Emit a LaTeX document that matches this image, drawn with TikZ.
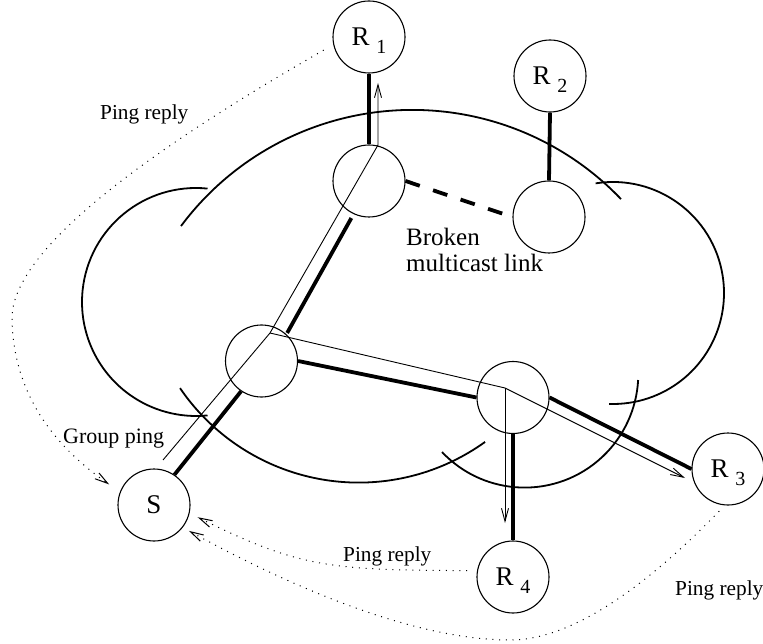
\documentclass[tikz,border=0pt]{standalone}
\usepackage{fontspec}
\setmainfont{Liberation Serif}
\usetikzlibrary{arrows.meta}
% receiver label: R with a lowered index
\newcommand\recvlabel[1]{R\ \raisebox{-8pt}[0pt][0pt]{\fontsize{20}{20}\selectfont #1}}
\begin{document}
\begin{tikzpicture}[x=1pt,y=-1pt,
  router/.style={circle, draw, line width=1.1pt, minimum size=72pt, inner sep=0pt},
  host/.style={router, font=\fontsize{27}{27}\selectfont},
  cloudline/.style={line width=1.8pt},
  tree/.style={line width=3.8pt},
  barb/.style={-{Straight Barb[length=13pt,width=7pt]}},
  ping/.style={line width=0.9pt, barb},
  reply/.style={line width=1pt, dash pattern=on 1pt off 5.7pt, barb},
  lbl/.style={inner sep=0pt, anchor=base west, font=\fontsize{21.3}{25}\selectfont}
]
\useasboundingbox (0,0) rectangle (763,644);

% network cloud
\draw[cloudline] (412.4,398.5) ++(-143.3:288.6) arc[start angle=-143.3, end angle=-43.7, radius=288.6];
\draw[cloudline] (196,302) ++(-84.2:114) arc[start angle=-84.2, end angle=-275.8, radius=114];
\draw[cloudline] (358.8,266.2) ++(145.7:216.4) arc[start angle=145.7, end angle=54.3, radius=216.4];
\draw[cloudline] (524.6,373.9) ++(136.6:113.7) arc[start angle=136.6, end angle=3.1, radius=113.7];
\draw[cloudline] (613,293) ++(-99:111) arc[start angle=-99, end angle=92, radius=111];

% hosts and routers
\node[host] (R1) at (369,37) {\recvlabel{1}};
\node[host] (R2) at (550,76) {\recvlabel{2}};
\node[host] (R3) at (728,469) {\recvlabel{3}};
\node[host] (R4) at (513,577) {\recvlabel{4}};
\node[host] (S) at (154,505) {S};
\node[router] (A) at (369,181) {};
\node[router] (B) at (549,217) {};
\node[router] (C) at (261.5,361) {};
\node[router] (D) at (513,397.5) {};

% multicast tree
\draw[tree] (R1.south) -- (A.north);
\draw[tree] (R2.south) -- (B.north);
\draw[tree, shorten <=4.5pt, shorten >=1.5pt] (A.245) -- (C.47);
\draw[tree] (C.236) -- (S.56);
\draw[tree] (C.east) -- (D.west);
\draw[tree] (D.east) -- (R3.west);
\draw[tree] (D.south) -- (R4.north);
\draw[tree, dash pattern=on 15pt off 14pt] (A.east) -- (B.west);

% group ping path
\coordinate (p-s) at (163,460);
\coordinate (p-c) at (270,333);
\coordinate (p-a) at (378,145);
\coordinate (p-r1) at (378,83);
\coordinate (p-d) at (505,388);
\coordinate (p-r3) at (685,478);
\coordinate (p-r4) at (505,523);
\draw[ping] (p-s) -- (p-c) -- (p-a) -- (p-r1);
\draw[ping] (p-c) -- (p-d) -- (p-r3);
\draw[ping] (p-d) -- (p-r4);

% ping replies
\draw[reply, shorten <=11pt, shorten >=13pt] (R1.192) .. controls (150,150) and (10,250) .. (12,320) .. controls (14,400) and (60,450) .. (S.159);
\draw[reply, shorten <=10pt, shorten >=9pt] (R4.170) .. controls (330,570) and (300,568) .. (S.-13);
\draw[reply, shorten <=8pt, shorten >=7pt] (R3.-95) .. controls (660,572) and (580,640) .. (510,640) .. controls (400,640) and (260,570) .. (S.-38);

% labels
\node[lbl] (t-reply1) at (100,120) {Ping reply};
\node[lbl, font=\fontsize{22}{26}\selectfont] (t-group) at (63,443) {Group ping};
\node[lbl] (t-reply2) at (343,561) {Ping reply};
\node[lbl] (t-reply3) at (675,595) {Ping reply};
\node[inner sep=0pt, anchor=north west, align=left, font=\fontsize{25}{26}\selectfont] (t-broken) at (406,228) {Broken\\multicast link};
\end{tikzpicture}
\end{document}
